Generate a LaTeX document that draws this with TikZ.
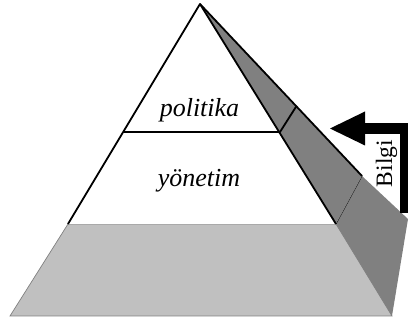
\documentclass[tikz,border=0pt]{standalone}
\usepackage{fontspec}
\setmainfont{Liberation Serif}
\definecolor{sidegray}{RGB}{128,128,128}
\definecolor{basegray}{RGB}{192,192,192}
\begin{document}
\begin{tikzpicture}[x=1pt,y=-1pt,
  edge/.style={line width=1.8pt,line join=round},
  thinedge/.style={line width=0.7pt},
  label/.style={font=\fontsize{26}{30}\selectfont\itshape,inner sep=0pt,anchor=base}]
\useasboundingbox (0,0) rectangle (408,323);
\coordinate (apex) at (200,4);
\coordinate (fl) at (68,224);
\coordinate (fr) at (336,224);
\coordinate (bl) at (10,316);
\coordinate (br) at (392,316);
\coordinate (sm) at (362,176);
\coordinate (sb) at (408,219);
\coordinate (pl) at (123,132);
\coordinate (pr) at (280,132);
\coordinate (ps) at (296.5,106);
% base
\filldraw[fill=basegray,draw=sidegray,line width=0.7pt] (fl) -- (fr) -- (br) -- (bl) -- cycle;
% lower side face
\fill[sidegray] (fr) -- (sm) -- (sb) -- (br) -- cycle;
\draw[thinedge] (fr) -- (sm);
% upper side face
\fill[sidegray] (apex) -- (sm) -- (fr) -- cycle;
% front triangle
\fill[white] (apex) -- (fl) -- (fr) -- cycle;
\draw[edge] (fl) -- (apex) -- (fr);
\draw[edge] (apex) -- (sm);
\draw[edge] (pl) -- (pr) -- (ps);
% labels
\node[label] (pol) at (199.5,117) {politika};
\node[label] (yon) at (199,187) {yönetim};
% arrow
\coordinate (a0) at (405.5,213);
\coordinate (a1) at (405.5,128.5);
\coordinate (a2) at (364,128.5);
\coordinate (tip) at (330,128.5);
\draw[line width=11pt,line join=miter] (a0) -- (a1) -- (a2);
\fill (tip) -- (365,111.5) -- (365,145.5) -- cycle;
\node[font=\fontsize{23.5}{28}\selectfont,rotate=90,anchor=base,inner sep=0pt] (bilgi) at (392,163.5) {Bilgi};
\end{tikzpicture}
\end{document}
